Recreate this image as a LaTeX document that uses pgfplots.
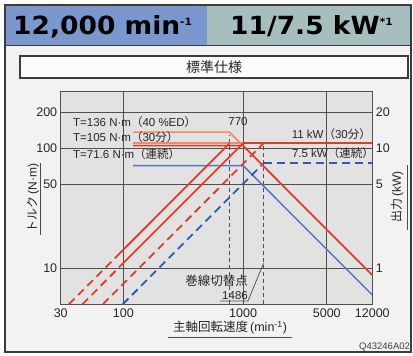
\documentclass[border=0pt]{standalone}
\usepackage{pgfplots}
\pgfplotsset{compat=1.18}
\usepackage{fontspec}
\setmainfont{Liberation Sans}
\newfontfamily\jp{Noto Sans CJK JP}
\newfontfamily\hdr{DejaVu Sans}
\definecolor{cred}{RGB}{228,58,38}
\definecolor{csal}{RGB}{240,140,100}
\definecolor{cblue}{RGB}{80,120,200}
\definecolor{cbdash}{RGB}{45,90,185}
\definecolor{gridc}{RGB}{80,80,80}
\definecolor{plotbg}{RGB}{226,226,226}
\definecolor{panel}{RGB}{242,242,242}
\definecolor{hblue}{RGB}{122,152,206}
\definecolor{hteal}{RGB}{166,190,190}
\definecolor{frame}{RGB}{60,60,60}
\begin{document}
\begin{tikzpicture}[x=1pt,y=1pt]
\path[use as bounding box] (0,0) rectangle (413,356);
\fill[white] (0,0) rectangle (413,356);
\fill[panel] (5,4) rectangle (411,310);
\fill[hblue] (5,310) rectangle (207,351);
\fill[hteal] (207,310) rectangle (411,351);
\draw[frame, line width=1.2pt] (5,4) rectangle (411,351);
\draw[frame, line width=1pt] (5,310) -- (411,310);
% header texts
\node[anchor=base west, inner sep=0pt] at (13,321) {\scalebox{1.06}[1]{\hdr\bfseries\fontsize{25}{28}\selectfont 12,000 min\raisebox{9pt}{\fontsize{10}{12}\selectfont -1}}};
\node[anchor=base west, inner sep=0pt] at (230,321) {\scalebox{1.06}[1]{\hdr\bfseries\fontsize{25}{28}\selectfont 11/7.5 kW\raisebox{9pt}{\fontsize{10}{12}\selectfont *1}}};
% sub title box
\draw[frame, fill=white!97!gray, line width=1.1pt] (20,278) rectangle (408,300);
\node[font=\jp\fontsize{14}{16}\selectfont, text=black!85] at (214,289) {標準仕様};
\begin{axis}[
  at={(60.7pt,51.8pt)}, anchor=south west, scale only axis,
  width=311.6pt, height=213.2pt,
  xmode=log, ymode=log,
  xmin=30, xmax=12000, ymin=5, ymax=300,
  xtick={30,100,1000,5000,12000}, xticklabels={30,100,1000,5000,12000},
  ytick={10,50,100,200}, yticklabels={10,50,100,200},
  minor xtick={}, minor ytick={},
  major tick length=0pt,
  grid=major, major grid style={draw=gridc, line width=0.8pt},
  axis line style={draw=gridc, line width=0.9pt},
  axis background/.style={fill=plotbg},
  tick label style={font=\fontsize{12.5}{14}\selectfont, text=black!85},
  xticklabel style={yshift=-1pt},
]
% dashed verticals
\addplot[gridc, line width=0.8pt, dash pattern=on 4pt off 3pt] coordinates {(770,5) (770,128)};
\addplot[gridc, line width=0.8pt, dash pattern=on 4pt off 3pt] coordinates {(1486,5) (1486,110)};
% blue
\addplot[cblue, line width=1.5pt] coordinates {(121,71.6) (1000,71.6) (12000,5.97)};
\addplot[cbdash, line width=1.8pt, dash pattern=on 8pt off 5pt] coordinates {(1486,75) (12000,75)};
\addplot[cbdash, line width=1.8pt, dash pattern=on 8pt off 5pt] coordinates {(99,5) (1486,75)};
% salmon
\addplot[csal, line width=1.6pt] coordinates {(121,136) (770,136) (12000,8.73)};
\addplot[csal, line width=1.6pt] coordinates {(121,111) (1000,111)};
% red
\addplot[cred, line width=1.6pt] coordinates {(121,105) (1000,105) (12000,8.75)};
\addplot[cred, line width=1.8pt] coordinates {(1000,110) (12000,110)};
\addplot[cred, line width=1.8pt, dash pattern=on 8pt off 5pt] coordinates {(35.1,5) (85,12.1)};
\addplot[cred, line width=1.8pt] coordinates {(85,12.1) (770,109.7)};
\addplot[cred, line width=1.8pt, dash pattern=on 8pt off 5pt] coordinates {(45.5,5) (95,10.45)};
\addplot[cred, line width=1.8pt] coordinates {(95,10.45) (1000,110)};
\addplot[cred, line width=1.8pt, dash pattern=on 8pt off 5pt] coordinates {(67.6,5) (1486,110)};
\end{axis}
\begin{axis}[
  at={(60.7pt,51.8pt)}, anchor=south west, scale only axis,
  width=311.6pt, height=213.2pt,
  xmode=log, ymode=log,
  xmin=30, xmax=12000, ymin=0.5, ymax=30,
  hide x axis, axis y line*=right, y axis line style={draw=none},
  ytick={1,5,10,20}, yticklabels={1,5,10,20},
  minor ytick={}, major tick length=0pt,
  tick label style={font=\fontsize{12.5}{14}\selectfont, text=black!85},
]
\end{axis}
% annotations
\begin{scope}[every node/.style={inner sep=0pt, text=black!85, font=\fontsize{11.5}{13}\selectfont}]
\node[anchor=west] at (73,233.5) {T=136 N·m{\jp （}40 \%ED{\jp ）}};
\node[anchor=west] at (73,219) {T=105 N·m{\jp （}30{\jp 分）}};
\node[anchor=west] at (73,202) {T=71.6 N·m{\jp （連続）}};
\node at (238,234) {770};
\node[anchor=east] at (371,222) {11 kW{\jp （}30{\jp 分）}};
\node[anchor=east] at (374,202.5) {7.5 kW{\jp （連続）}};
\node[anchor=east, font=\jp\fontsize{12.5}{14}\selectfont] at (248,75) {巻線切替点};
\node[anchor=east] at (248,60) {1486};
\node[rotate=90, font=\fontsize{12}{14}\selectfont] at (33,158) {{\jp トルク}\,(N·m)};
\node[rotate=90, font=\fontsize{12}{14}\selectfont] at (397,159) {{\jp 出力}\,(kW)};
\node[font=\fontsize{12.5}{14}\selectfont] at (230,28) {{\jp 主軸回転速度}\,(min\textsuperscript{-1})};
\node[anchor=west, font=\fontsize{9.5}{11}\selectfont, text=black!75] at (359,9) {Q43246A02};
\end{scope}
\draw[black!70, line width=0.7pt] (220,55) -- (248,55) -- (263.5,92.7);
\draw[black!70, line width=0.7pt] (40,121) -- (40,193);
\draw[black!70, line width=0.7pt] (407,126) -- (407,191);
\draw[black!70, line width=0.7pt] (168,19) -- (292,19);
\end{tikzpicture}
\end{document}
